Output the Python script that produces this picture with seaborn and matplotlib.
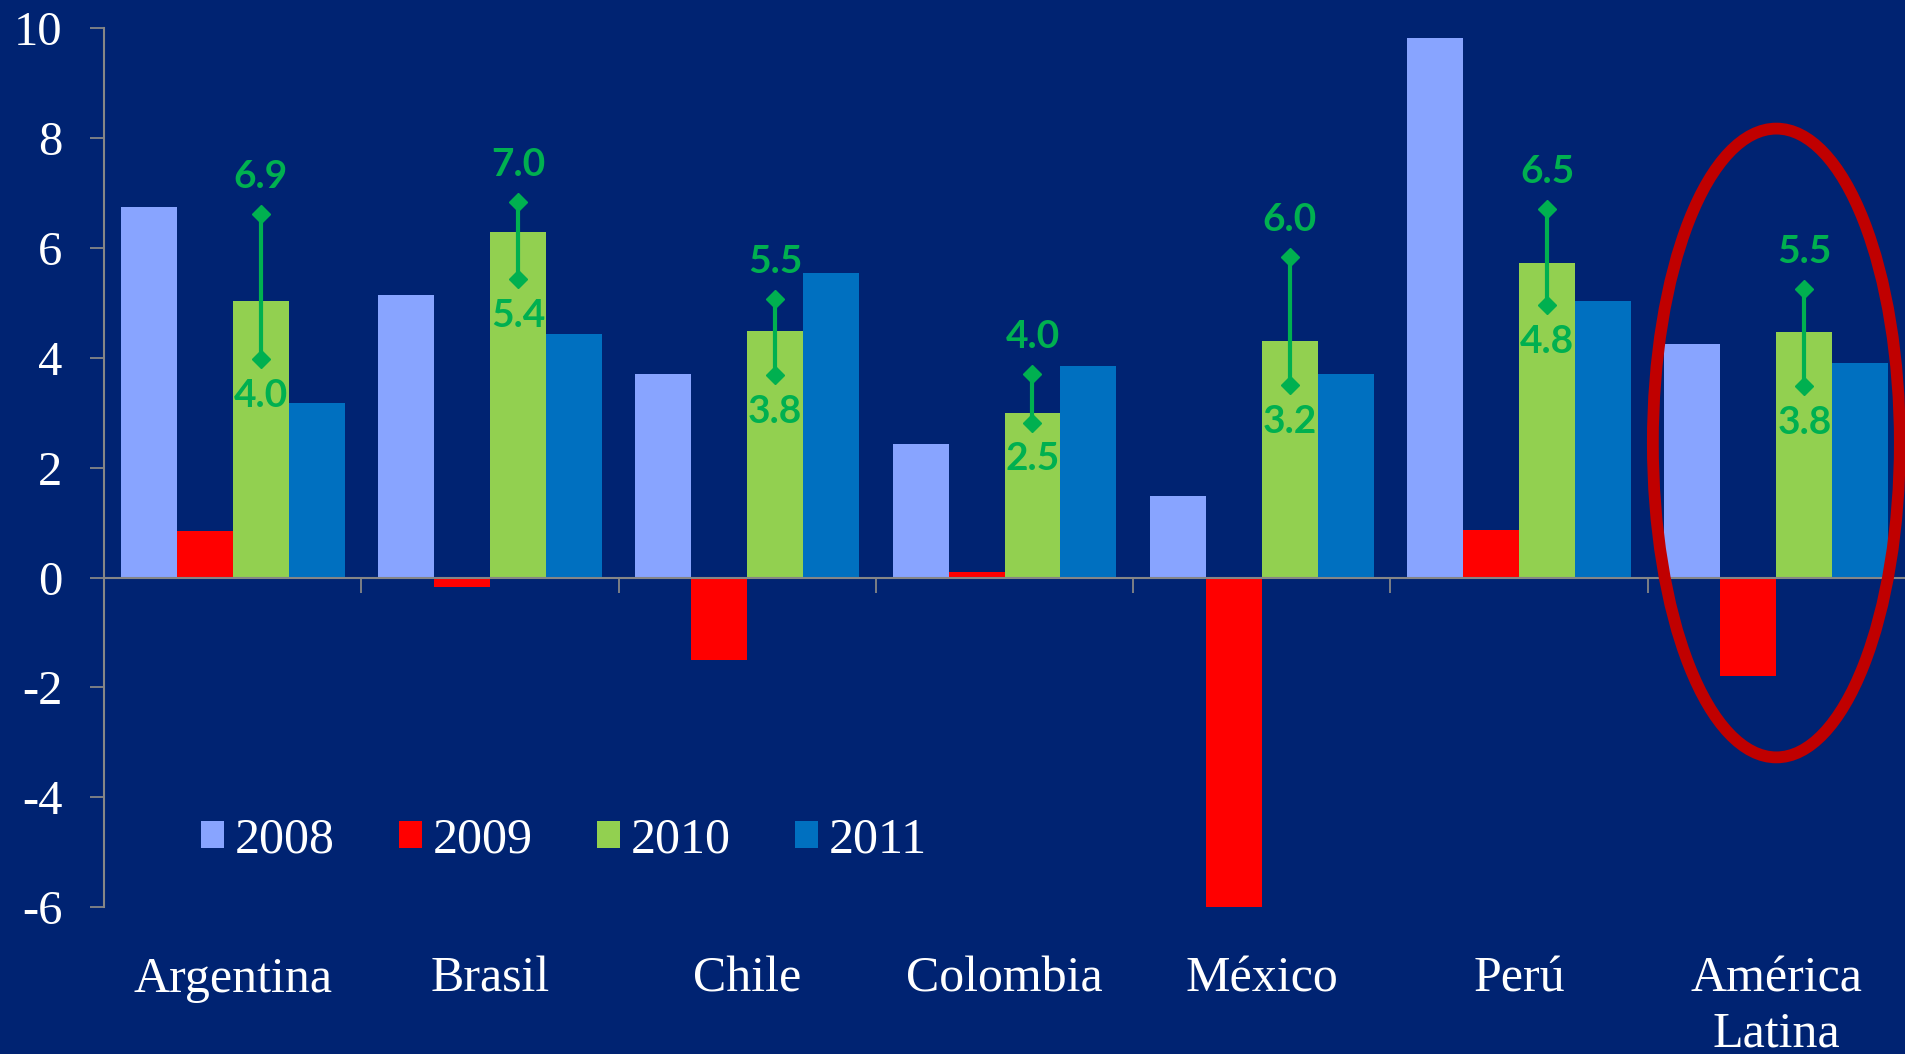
import numpy as np
import pandas as pd
import matplotlib
matplotlib.use("Agg")
import matplotlib.pyplot as plt
from matplotlib.patches import Ellipse, Patch
import seaborn as sns

# ------------------------------
# Datos
# ------------------------------
paises = ["Argentina", "Brasil", "Chile", "Colombia", "México", "Perú", "América\nLatina"]
anios = ["2008", "2009", "2010", "2011"]
v2008 = [6.75, 5.14, 3.70, 2.44, 1.48, 9.82, 4.25]
v2009 = [0.84, -0.17, -1.50, 0.10, -6.0, 0.87, -1.79]
v2010 = [5.04, 6.29, 4.49, 2.99, 4.30, 5.73, 4.48]
v2011 = [3.18, 4.44, 5.54, 3.86, 3.70, 5.04, 3.90]

# rango de proyección para 2010 (marcadores verdes)
rango_alto = [6.62, 6.83, 5.08, 3.70, 5.84, 6.72, 5.25]
rango_bajo = [3.98, 5.43, 3.68, 2.82, 3.50, 4.96, 3.48]
etiqueta_alto = ["6.9", "7.0", "5.5", "4.0", "6.0", "6.5", "5.5"]
etiqueta_bajo = ["4.0", "5.4", "3.8", "2.5", "3.2", "4.8", "3.8"]

df = pd.DataFrame({
    "pais": paises * len(anios),
    "anio": np.repeat(anios, len(paises)),
    "valor": v2008 + v2009 + v2010 + v2011,
})

# ------------------------------
# Estilo
# ------------------------------
fondo = "#002372"
colores = ["#88A4FF", "#FF0000", "#92D050", "#0070C0"]
verde = "#00B050"
gris = "#868686"

sns.set_style("white")
plt.rcParams["font.family"] = ["Liberation Serif", "DejaVu Serif"]
plt.rcParams["axes.unicode_minus"] = False

fig = plt.figure(figsize=(19.05, 10.54), dpi=100, facecolor=fondo)
ax = fig.add_axes([104 / 1905, 1 - 907 / 1054, 1 - 104 / 1905, (907 - 28.4) / 1054])
ax.set_facecolor(fondo)

sns.barplot(data=df, x="pais", y="valor", hue="anio", palette=colores,
            saturation=1, width=0.87, errorbar=None, linewidth=0,
            legend=False, ax=ax)

ax.set_ylim(-6, 10)
ax.set_xlim(-0.5, len(paises) - 0.5)
ax.set_yticks(np.arange(-6, 11, 2))
ax.set_xlabel("")
ax.set_ylabel("")

# ejes
for lado in ["top", "right"]:
    ax.spines[lado].set_visible(False)
ax.spines["bottom"].set_position(("data", 0))
for lado in ["left", "bottom"]:
    ax.spines[lado].set_color(gris)
    ax.spines[lado].set_linewidth(1.5)

ax.set_xticks(np.arange(len(paises) - 1) + 0.5)
ax.set_xticklabels([])
ax.tick_params(axis="x", bottom=True, direction="out", length=11, width=1.3,
               color=gris)
ax.tick_params(axis="y", left=True, direction="out", length=10, width=1.3,
               color=gris, labelcolor="white", labelsize=35, pad=20)

# nombres de países
for i, nombre in enumerate(paises):
    for j, linea in enumerate(nombre.split("\n")):
        ax.annotate(linea, xy=(i, -0.0964), xycoords=ax.get_xaxis_transform(),
                    xytext=(0, -39.6 * j), textcoords="offset points",
                    ha="center", va="baseline", color="white", fontsize=36,
                    annotation_clip=False)

# rangos de 2010
barras_2010 = ax.containers[2]
for i, barra in enumerate(barras_2010):
    x = barra.get_x() + barra.get_width() / 2
    ax.plot([x, x], [rango_bajo[i], rango_alto[i]], color=verde, lw=3,
            marker="D", ms=9, zorder=4)
    ax.annotate(etiqueta_alto[i], xy=(x, rango_alto[i]), xytext=(0, 27),
                textcoords="offset points", ha="center", va="center",
                color=verde, fontsize=28, fontweight="bold",
                family=["Lato", "DejaVu Sans"], zorder=4)
    ax.annotate(etiqueta_bajo[i], xy=(x, rango_bajo[i]), xytext=(0, -26),
                textcoords="offset points", ha="center", va="center",
                color=verde, fontsize=28, fontweight="bold",
                family=["Lato", "DejaVu Sans"], zorder=4)

# óvalo sobre América Latina
ax.add_patch(Ellipse((len(paises) - 1, 2.45), 0.96, 11.45, fill=False,
                     edgecolor="#C00000", lw=8.5, clip_on=False, zorder=5))

# leyenda
handles = [Patch(facecolor=c, edgecolor="none", label=a)
           for c, a in zip(colores, anios)]
ax.legend(handles=handles, ncol=4, loc="center left",
          bbox_to_anchor=(201 / 1905, 1 - 840 / 1054),
          bbox_transform=fig.transFigure, frameon=False, borderpad=0,
          borderaxespad=0, handlelength=0.46, handleheight=0.46,
          handletextpad=0.22, columnspacing=1.28, labelcolor="white",
          prop={"family": ["Liberation Serif", "DejaVu Serif"], "size": 36})

fig.savefig("out.png", dpi=100, facecolor=fondo)
